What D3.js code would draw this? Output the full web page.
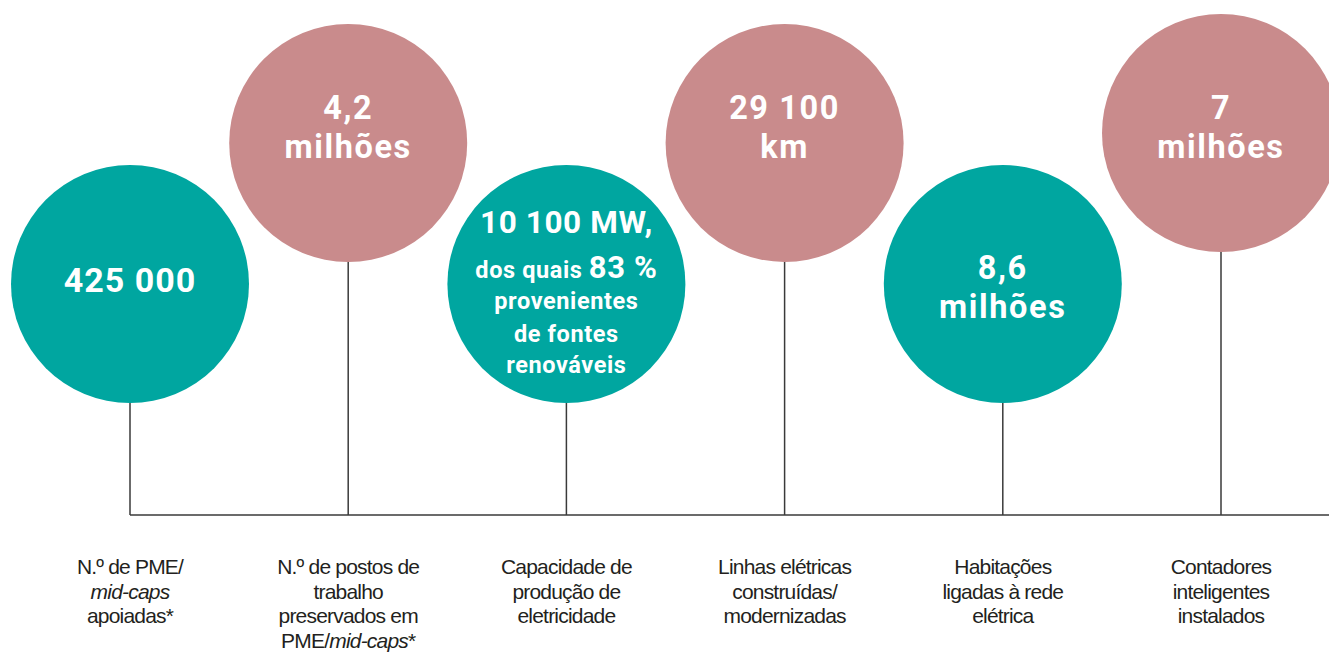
<!DOCTYPE html>
<html>
<head>
<meta charset="utf-8">
<script src="https://cdn.jsdelivr.net/npm/d3@7"></script>
<style>
  body { margin: 0; background: #fff; }
  .value { font-family: Roboto, sans-serif; font-weight: 700; fill: #fff; text-anchor: middle; }
  .label { font-family: "Liberation Sans", sans-serif; font-size: 21px; letter-spacing: -0.8px; fill: #231f20; text-anchor: middle; }
  .stem { stroke: #3a3a3a; stroke-width: 1.5; fill: none; }
</style>
</head>
<body>
<svg id="chart" width="1329" height="659"></svg>
<script>
// categories (indicator names), one line per array entry, {...} marks italic
var categories = [
  ['N.º de PME/', '{mid-caps}', 'apoiadas*'],
  ['N.º de postos de', 'trabalho', 'preservados em', 'PME/{mid-caps}*'],
  ['Capacidade de', 'produção de', 'eletricidade'],
  ['Linhas elétricas', 'construídas/', 'modernizadas'],
  ['Habitações', 'ligadas à rede', 'elétrica'],
  ['Contadores', 'inteligentes', 'instalados']
];

// values shown in the circles, '|' splits the small and big part
var values = [
  ['425 000'],
  ['4,2', 'milhões'],
  ['10 100 MW,', 'dos quais |83 %', 'provenientes', 'de fontes', 'renováveis'],
  ['29 100', 'km'],
  ['8,6', 'milhões'],
  ['7', 'milhões']
];

var groups = ['eu', 'local', 'eu', 'local', 'eu', 'local'];

var width = 1329, height = 659,
    r = 119,
    base_y = 515,
    label_y = 574,
    label_lh = 24.6;

var colour = d3.scaleOrdinal().domain(['eu', 'local']).range(['#00a6a0', '#c98b8c']);

var x = d3.scalePoint()
  .domain(d3.range(categories.length))
  .range([130, 1221]);

var row_y = function(i) { return (i % 2 == 0) ? 284 : 143; };
// last circle sits a bit higher than the others
var cy = function(i) { return (i == categories.length - 1) ? 133 : row_y(i); };

var svg = d3.select('#chart');

svg.append('line')
  .attr('class', 'stem')
  .attr('x1', x(0)).attr('x2', width)
  .attr('y1', base_y).attr('y2', base_y);

var item = svg.selectAll('g.item')
  .data(d3.range(categories.length))
  .enter()
  .append('g')
  .attr('class', 'item');

item.append('line')
  .attr('class', 'stem')
  .attr('x1', function(i) { return x(i); })
  .attr('x2', function(i) { return x(i); })
  .attr('y1', function(i) { return cy(i) + r; })
  .attr('y2', base_y);

item.append('circle')
  .attr('cx', function(i) { return x(i); })
  .attr('cy', function(i) { return cy(i); })
  .attr('r', r)
  .attr('fill', function(i) { return colour(groups[i]); });

item.each(function(i) {
  var g = d3.select(this),
      lines = values[i],
      cx = x(i),
      c = row_y(i);

  if (lines.length == 1) {
    g.append('text').attr('class', 'value')
      .attr('x', cx).attr('y', c + 8)
      .style('font-size', '34px')
      .style('letter-spacing', '1px')
      .text(lines[0]);
  } else if (lines.length == 2) {
    var off = (i % 2 == 0) ? -5 : -24;
    lines.forEach(function(l, j) {
      g.append('text').attr('class', 'value')
        .attr('x', cx).attr('y', c + off + j * 38.5)
        .style('font-size', '32.5px')
        .style('letter-spacing', '1.6px')
        .text(l);
    });
  } else {
    var ys = [-51, -6, 25, 58, 89];
    lines.forEach(function(l, j) {
      var t = g.append('text').attr('class', 'value')
        .attr('x', cx).attr('y', c + ys[j])
        .style('font-size', j == 0 ? '31.5px' : '23.5px')
        .style('letter-spacing', '0.6px');
      if (l.indexOf('|') >= 0) {
        var parts = l.split('|');
        t.append('tspan').text(parts[0]);
        t.append('tspan').style('font-size', '31px').text(parts[1]);
      } else {
        t.text(l);
      }
    });
  }

  var t = g.append('text').attr('class', 'label').attr('y', label_y);
  categories[i].forEach(function(l, j) {
    var first = true;
    l.split(/(\{[^}]*\})/).filter(function(s) { return s.length; }).forEach(function(s) {
      var ts = t.append('tspan');
      if (first) { ts.attr('x', cx).attr('dy', j == 0 ? 0 : label_lh); first = false; }
      if (s[0] == '{') {
        ts.style('font-style', 'italic').text(s.slice(1, -1));
      } else {
        ts.text(s);
      }
    });
  });
});
</script>
</body>
</html>
